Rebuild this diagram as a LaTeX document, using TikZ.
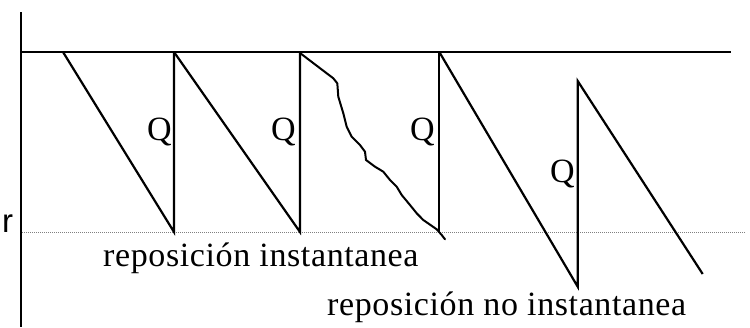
\documentclass[tikz,border=0pt]{standalone}
\usepackage{fontspec}
\setmainfont{Liberation Serif}
\newfontfamily\arialfont{Liberation Sans}
\newfontfamily\spacedfont[LetterSpace=1.8]{Liberation Serif}
\begin{document}
\begin{tikzpicture}[x=1pt,y=-1pt,
  stroke/.style={line width=2.2pt,line join=miter},
  curvy/.style={line width=2pt,line join=round,line cap=round},
  dotline/.style={line width=0.9pt,gray,dash pattern=on 1pt off 1pt},
  lbl/.style={inner sep=0pt,anchor=base west,font=\fontsize{34}{40}\selectfont},
  tlbl/.style={inner sep=0pt,anchor=base west,font=\spacedfont\fontsize{34}{40}\selectfont},
  rlbl/.style={inner sep=0pt,anchor=base west,font=\arialfont\fontsize{33}{38}\selectfont}]
\useasboundingbox (0,0) rectangle (750,327);
% axes
\draw[stroke] (21,12) -- (21,327);
\draw[stroke] (21,52) -- (731,52);
\draw[dotline] (22,232) -- (745,232);
% first tooth
\draw[stroke] (63,52) -- (174,232) -- (174,52);
% second tooth
\draw[stroke] (174,52) -- (300,232) -- (300,52);
% irregular consumption
\draw[curvy] (300,53) -- (333.3,78.3) -- (337.3,83.3) -- (338.3,96.7) -- (343.3,113.3) -- (346.7,126.7) -- (351.7,136.7) -- (360,145) -- (365,151.7) -- (366,160) -- (375,166.7) -- (383.3,171.7) -- (390,180) -- (396.7,186.7) -- (401.7,195) -- (410,205) -- (416.7,213.3) -- (423.3,220) -- (436.7,229.3) -- (441.7,235) -- (445,239.3);
\draw[stroke] (439.3,232) -- (439.3,52);
% non-instantaneous
\draw[stroke] (439.3,52) -- (577.7,286.7) -- (577.7,81) -- (702.7,274);
% labels
\node[lbl] (q1) at (147,140) {Q};
\node[lbl] (q2) at (271,140) {Q};
\node[lbl] (q3) at (410,140) {Q};
\node[lbl] (q4) at (550,182) {Q};
\node[rlbl] (r) at (2,232) {r};
\node[tlbl] (t1) at (103,266) {reposición instantanea};
\node[tlbl] (t2) at (327,315) {reposición no instantanea};
\end{tikzpicture}
\end{document}
